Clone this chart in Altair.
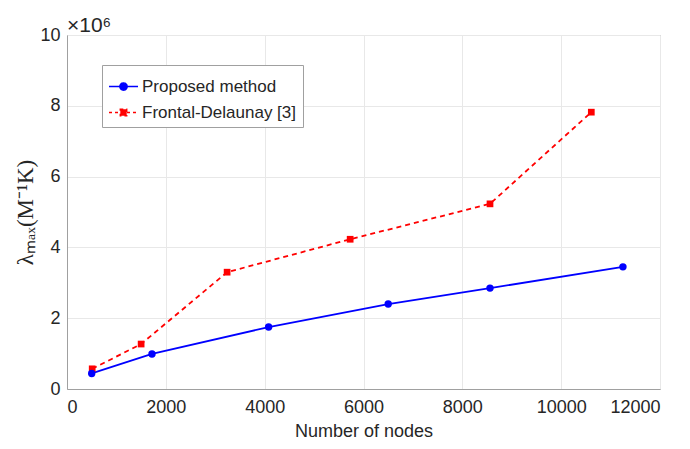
import altair as alt
import pandas as pd

series_names = ["Proposed method", "Frontal-Delaunay [3]"]
nodes_proposed = [500, 1720, 4080, 6500, 8560, 11250]
lam_proposed = [0.44, 0.99, 1.75, 2.40, 2.85, 3.45]
nodes_fd = [510, 1500, 3240, 5730, 8560, 10610]
lam_fd = [0.57, 1.27, 3.30, 4.23, 5.23, 7.82]
x_ticks = [0, 2000, 4000, 6000, 8000, 10000, 12000]
y_ticks = [0, 2, 4, 6, 8, 10]

colors = ["#0000ff", "#ff0000"]
legend_paths = [
    "M-1,0L1,0M-0.25,0A0.25,0.25,0,1,1,0.25,0A0.25,0.25,0,1,1,-0.25,0Z",
    "M-1,0L1,0M-0.22,-0.22L0.22,-0.22L0.22,0.22L-0.22,0.22Z",
]

rows = []
for n, v in zip(nodes_proposed, lam_proposed):
    rows.append({"nodes": n, "lam": v, "series": series_names[0]})
for n, v in zip(nodes_fd, lam_fd):
    rows.append({"nodes": n, "lam": v, "series": series_names[1]})
df = pd.DataFrame(rows)

FONT = "Liberation Sans"
TXT = "#262626"

x = alt.X("nodes:Q", scale=alt.Scale(domain=[0, 12000], nice=False),
          axis=alt.Axis(values=x_ticks, format="d", title="Number of nodes",
                        labelPadding=9, titlePadding=6))
y = alt.Y("lam:Q", scale=alt.Scale(domain=[0, 10], nice=False),
          axis=alt.Axis(values=y_ticks, title="λₘₐₓ(M⁻¹K)", labelPadding=7,
                        titlePadding=2, titleFont="Liberation Serif",
                        titleFontSize=23, titleFontWeight="normal"))

base = alt.Chart(df)

blue = base.transform_filter(alt.datum.series == series_names[0])
red = base.transform_filter(alt.datum.series == series_names[1])

blue_line = blue.mark_line(color=colors[0], strokeWidth=1.8).encode(x=x, y=y)
blue_pts = blue.mark_point(shape="circle", filled=True, color=colors[0], size=55, opacity=1).encode(x=x, y=y)
red_line = red.mark_line(color=colors[1], strokeWidth=1.8, strokeDash=[5, 4]).encode(x=x, y=y)
red_pts = red.mark_point(shape="square", filled=True, color=colors[1], size=45, opacity=1).encode(x=x, y=y)

legend = alt.Legend(orient="none", legendX=35, legendY=30, title=None,
                    labelFontSize=17, labelFont=FONT, labelColor=TXT,
                    strokeColor="#a0a0a0", fillColor="white", padding=6,
                    symbolSize=841, symbolStrokeWidth=1.5, rowPadding=2,
                    labelLimit=400, symbolOffset=0, labelOffset=3)

legend_layer = base.transform_filter("false").mark_point(filled=True, size=841, opacity=1).encode(
    x=x, y=y,
    color=alt.Color("series:N", scale=alt.Scale(domain=series_names, range=colors), legend=legend),
    stroke=alt.Stroke("series:N", scale=alt.Scale(domain=series_names, range=colors), legend=legend),
    strokeDash=alt.StrokeDash("series:N", scale=alt.Scale(domain=series_names, range=[[1, 0], [3, 3]]), legend=legend),
    shape=alt.Shape("series:N", scale=alt.Scale(domain=series_names, range=legend_paths), legend=legend),
)

exp_text = alt.Chart(pd.DataFrame({"t": ["×10⁶"]})).mark_text(
    align="left", baseline="alphabetic", fontSize=21, font=FONT, color=TXT
).encode(text="t:N", x=alt.value(0), y=alt.value(-3))

chart = alt.layer(red_line, blue_line, red_pts, blue_pts, legend_layer, exp_text).properties(
    width=593, height=354,
    autosize=alt.AutoSizeParams(type="none"),
    padding={"left": 59, "top": 27, "right": 22, "bottom": 52},
).configure_axis(
    labelFont=FONT, titleFont=FONT, labelFontSize=18, titleFontSize=18,
    labelColor=TXT, titleColor=TXT, domainColor="#a0a0a0", gridColor="#e8e8e8",
    ticks=False, titleFontWeight="normal",
).configure_view(stroke="#a0a0a0")

chart.save("out.html", embed_options={"renderer": "svg", "actions": False})
